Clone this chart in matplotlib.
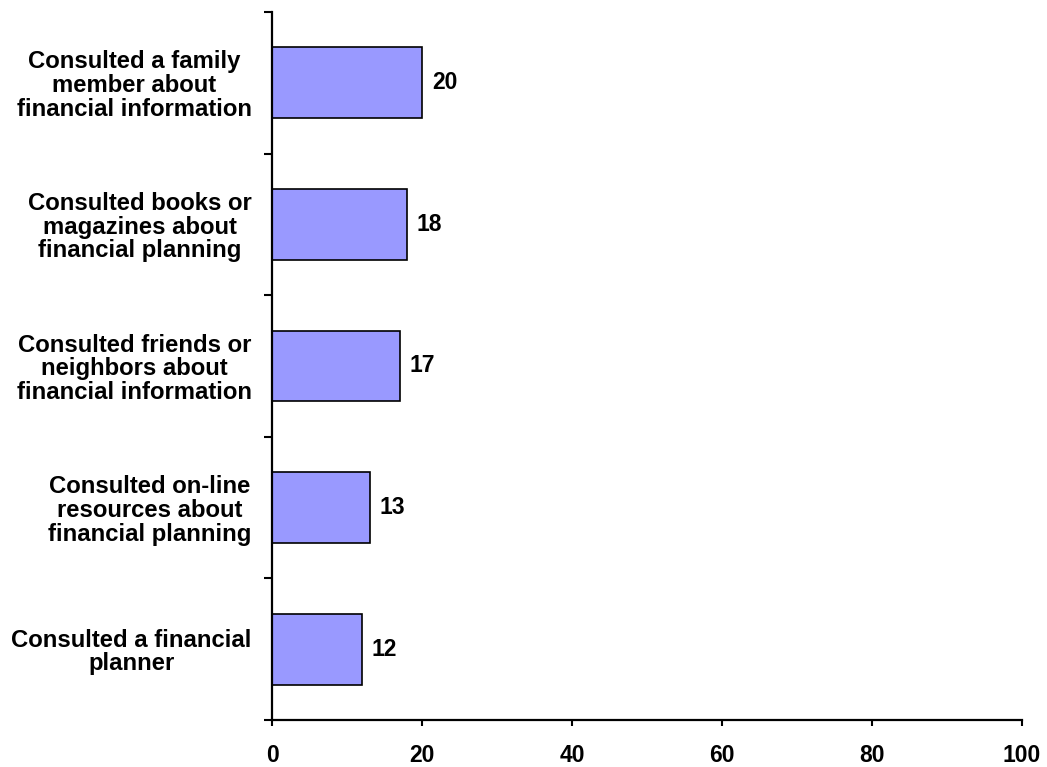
import matplotlib.pyplot as plt
import numpy as np

plt.rcParams['font.family'] = ['Liberation Sans', 'DejaVu Sans']
plt.rcParams['font.weight'] = 'bold'

# categories listed top to bottom
categories = [
    "Consulted a family\nmember about\nfinancial information",
    "Consulted books or\nmagazines about\nfinancial planning",
    "Consulted friends or\nneighbors about\nfinancial information",
    "Consulted on-line\nresources about\nfinancial planning",
    "Consulted a financial\nplanner",
]
values = [20, 18, 17, 13, 12]
x_ticks = [0, 20, 40, 60, 80, 100]

fig = plt.figure(figsize=(10.47, 7.67), dpi=100)
ax = fig.add_axes([0.2598, 0.0613, 0.7163, 0.9231])

n = len(categories)
pos = np.arange(n)[::-1]
bars = ax.barh(pos, values, height=0.5, color='#9999FF', edgecolor='black', linewidth=1.2, zorder=2)

for y, v in zip(pos, values):
    ax.text(v + 1.3, y, str(v), va='center', ha='left', fontsize=16.5, fontweight='bold')

ax.set_xlim(0, 100)
ax.set_ylim(-0.5, n - 0.5)

ax.set_xticks(x_ticks)
ax.set_xticklabels([str(t) for t in x_ticks], fontsize=16.5, fontweight='bold')
ax.set_yticks(pos)
ax.set_yticklabels(categories, fontsize=17.2, fontweight='bold', multialignment='center', linespacing=1.04)
ax.set_yticks(np.arange(n + 1) - 0.5, minor=True)

ax.tick_params(axis='y', which='major', length=0, pad=14.5)
ax.tick_params(axis='y', which='minor', length=6, width=1.5, direction='out')
ax.tick_params(axis='x', which='major', length=4.3, width=1.5, direction='out', pad=13)

for side in ['top', 'right']:
    ax.spines[side].set_visible(False)
for side in ['left', 'bottom']:
    ax.spines[side].set_linewidth(1.6)

fig.savefig('out.png', dpi=100)
